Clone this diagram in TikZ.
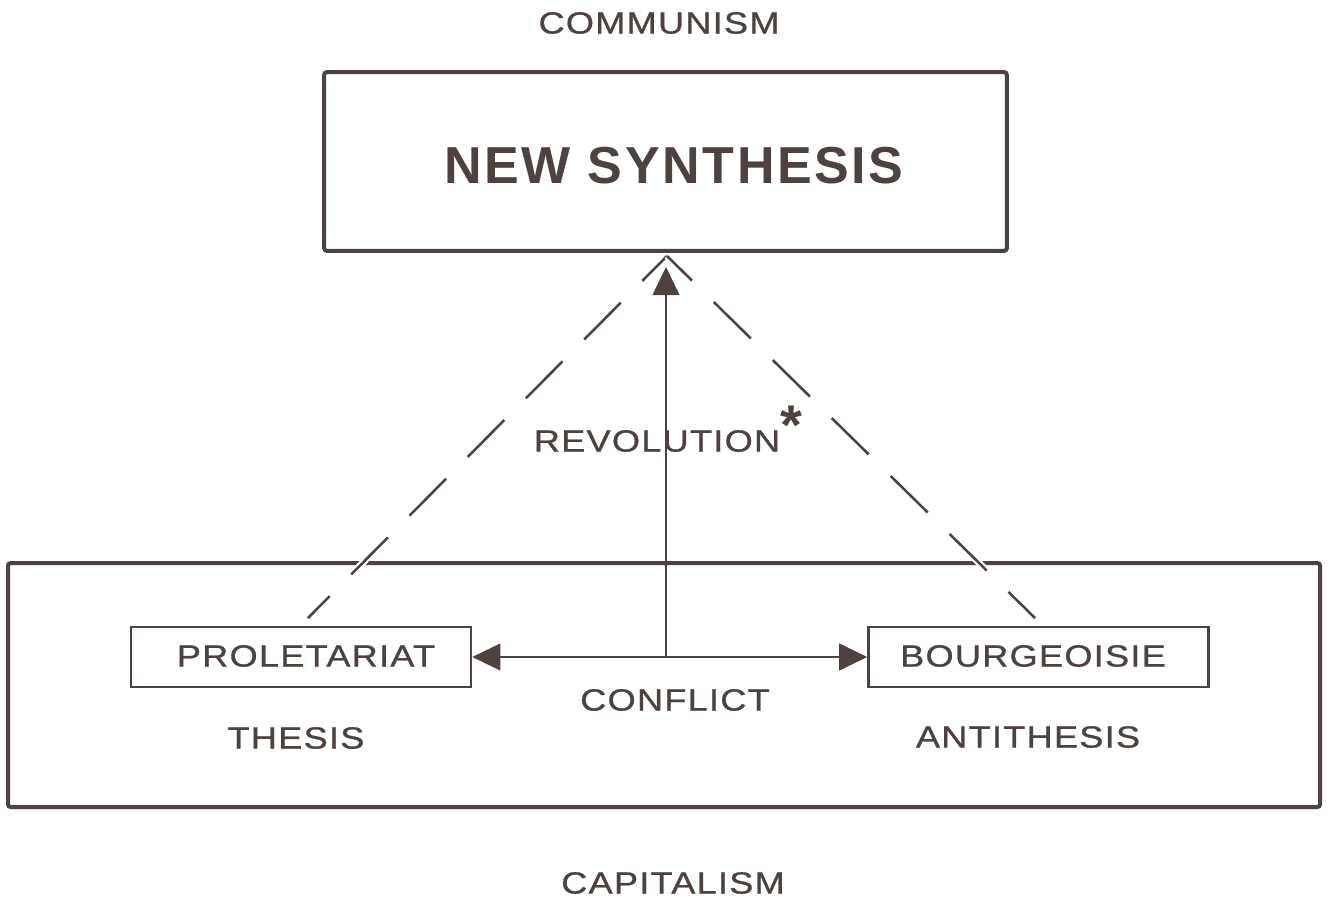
\documentclass[tikz,border=0pt]{standalone}
\usepackage{fontspec}
\setmainfont{Liberation Sans}
\newfontfamily\lett[FakeStretch=1.18,LetterSpace=4,FakeBold=0.8]{Liberation Sans}
\newfontfamily\lettbig[LetterSpace=5]{Liberation Sans}
\usetikzlibrary{arrows.meta}
\definecolor{ink}{RGB}{78,66,64}
\begin{document}
\begin{tikzpicture}[x=0.75pt,y=-0.75pt,
  lbl/.style={inner sep=0pt, text=ink, font=\lett\fontsize{23}{27}\selectfont},
  titlelbl/.style={inner sep=0pt, text=ink, font=\lettbig\bfseries\fontsize{39}{44}\selectfont},
  frame/.style={draw=ink, line width=3pt, rounded corners=2pt, inner sep=0pt},
  boxnode/.style={draw=ink, line width=1.9pt, inner sep=0pt, minimum width=255pt, minimum height=45pt},
  dashln/.style={draw=ink, line width=1.9pt, dash pattern=on 39pt off 23pt, dash phase=12.75pt,
    preaction={draw=white, line width=5pt, dash pattern=on 39pt off 23pt, dash phase=12.75pt}},
  arr/.style={draw=ink, line width=1.5pt, -{Triangle[length=21pt,width=20pt]}},
  darr/.style={draw=ink, line width=1.5pt, {Triangle[length=21pt,width=20pt]}-{Triangle[length=21pt,width=20pt]}}]
\useasboundingbox (0,0) rectangle (1328,904);
\fill[white] (0,0) rectangle (1328,904);

% capitalism frame
\node[frame, minimum width=984pt, minimum height=183pt] (capbox) at (664,685) {};

% dashed lines
\coordinate (apex) at (667,256);
\coordinate (lend) at (308,618);
\coordinate (rend) at (1035,618);
\draw[dashln] (apex) -- (lend);
\draw[dashln] (apex) -- (rend);

% new synthesis box
\node[frame, minimum width=512pt, minimum height=134pt] (synbox) at (665.5,161.5) {};
\node[titlelbl] (syn) at (674,166) {NEW SYNTHESIS};

% small boxes
\node[boxnode] (prol) at (301,657) {};
\node[boxnode] (bour) at (1038.5,657) {};
\node[lbl] (prolt) at (306,656) {PROLETARIAT};
\node[lbl] (bourt) at (1033,656) {BOURGEOISIE};

% arrows
\coordinate (mid) at (666,657);
\coordinate (tip) at (666,267);
\draw[darr] (prol.east) -- (bour.west);
\draw[arr] (mid) -- (tip);

% labels
\node[lbl] (comm) at (659,23) {COMMUNISM};
\node[lbl] (rev) at (657,441) {REVOLUTION};
\node[anchor=base, inner sep=0pt, text=ink, font=\bfseries\fontsize{42}{42}\selectfont] (ast) at (791,444) {*};
\node[lbl] (thes) at (296,738) {THESIS};
\node[lbl] (anti) at (1028,737) {ANTITHESIS};
\node[lbl] (conf) at (675,700) {CONFLICT};
\node[lbl] (capi) at (673,883) {CAPITALISM};
\end{tikzpicture}
\end{document}
